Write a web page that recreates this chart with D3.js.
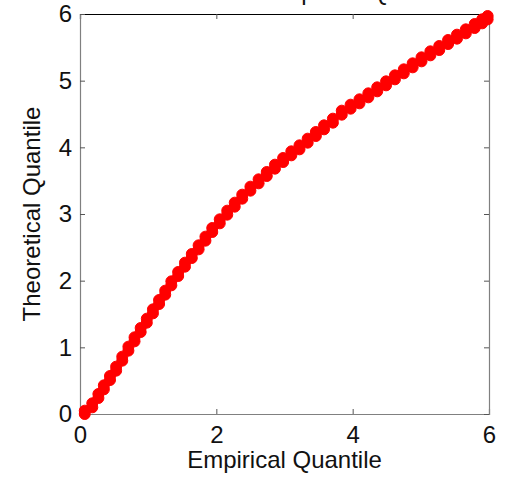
<!DOCTYPE html>
<html>
<head>
<meta charset="utf-8">
<script src="https://cdn.jsdelivr.net/npm/d3@7"></script>
<style>
  html, body { margin: 0; padding: 0; background: #fff; }
  svg { display: block; font-family: "Liberation Sans", Arial, sans-serif; }
</style>
</head>
<body>
<svg id="chart" width="508" height="478"></svg>
<script>
// Quantile pairs (empirical, theoretical); tied empirical values come in twos
const empirical = [
  0.07, 0.07, 0.18, 0.18, 0.27, 0.27, 0.35, 0.35, 0.44, 0.44, 0.53, 0.53,
  0.62, 0.62, 0.71, 0.71, 0.80, 0.80, 0.89, 0.89, 0.98, 0.98, 1.07, 1.07,
  1.16, 1.16, 1.25, 1.25, 1.34, 1.34, 1.44, 1.44, 1.54, 1.54, 1.64, 1.64,
  1.74, 1.74, 1.84, 1.84, 1.94, 1.94, 2.05, 2.05, 2.16, 2.16, 2.27, 2.27,
  2.38, 2.38, 2.50, 2.50, 2.62, 2.62, 2.74, 2.74, 2.86, 2.86, 2.98, 2.98,
  3.10, 3.10, 3.22, 3.22, 3.34, 3.34, 3.46, 3.46, 3.58, 3.58, 3.71, 3.71,
  3.84, 3.84, 3.97, 3.97, 4.10, 4.10, 4.23, 4.23, 4.36, 4.36, 4.49, 4.49,
  4.62, 4.62, 4.75, 4.75, 4.88, 4.88, 5.01, 5.01, 5.14, 5.14, 5.27, 5.27,
  5.40, 5.40, 5.53, 5.53, 5.66, 5.66, 5.79, 5.79, 5.90, 5.90, 5.98, 5.98
];
const theoretical = [
  0.00, 0.05, 0.10, 0.16, 0.24, 0.30, 0.37, 0.43, 0.51, 0.57, 0.65, 0.71,
  0.80, 0.86, 0.95, 1.01, 1.09, 1.15, 1.23, 1.29, 1.37, 1.43, 1.51, 1.57,
  1.65, 1.71, 1.79, 1.85, 1.93, 1.99, 2.07, 2.13, 2.21, 2.27, 2.34, 2.40,
  2.47, 2.53, 2.60, 2.66, 2.73, 2.79, 2.86, 2.92, 2.99, 3.05, 3.11, 3.17,
  3.23, 3.29, 3.35, 3.41, 3.46, 3.52, 3.57, 3.63, 3.68, 3.74, 3.78, 3.84,
  3.88, 3.94, 3.97, 4.03, 4.07, 4.13, 4.17, 4.23, 4.27, 4.33, 4.37, 4.43,
  4.49, 4.55, 4.58, 4.64, 4.66, 4.72, 4.75, 4.81, 4.84, 4.90, 4.93, 4.99,
  5.02, 5.08, 5.11, 5.17, 5.20, 5.26, 5.29, 5.35, 5.38, 5.44, 5.46, 5.52,
  5.55, 5.61, 5.63, 5.69, 5.71, 5.77, 5.79, 5.85, 5.86, 5.92, 5.92, 5.97
];
const xTicks = [0, 2, 4, 6];
const yTicks = [0, 1, 2, 3, 4, 5, 6];
const titleText = "Theoretical vs Empirical Quantile";
const xLabel = "Empirical Quantile";
const yLabel = "Theoretical Quantile";

const svg = d3.select("#chart");
const plotLeft = 80, plotRight = 489, plotTop = 14, plotBottom = 414;

const x = d3.scaleLinear().domain([0, 6]).range([plotLeft, plotRight]);
const y = d3.scaleLinear().domain([0, 6]).range([plotBottom, plotTop]);

const tickLen = 5;
const fontSize = 24;

// Axes (ticks point into the plot box)
const axisColor = "#808080";
const gBottom = svg.append("g").attr("transform", `translate(0,${plotBottom})`)
  .call(d3.axisBottom(x).tickValues(xTicks).tickSize(-tickLen).tickPadding(12).tickFormat(d3.format("d")));
const gTop = svg.append("g").attr("transform", `translate(0,${plotTop})`)
  .call(d3.axisTop(x).tickValues(xTicks).tickSize(-tickLen).tickFormat(""));
const gLeft = svg.append("g").attr("transform", `translate(${plotLeft},0)`)
  .call(d3.axisLeft(y).tickValues(yTicks).tickSize(-tickLen).tickPadding(8).tickFormat(d3.format("d")));
const gRight = svg.append("g").attr("transform", `translate(${plotRight},0)`)
  .call(d3.axisRight(y).tickValues(yTicks).tickSize(-tickLen).tickFormat(""));

[gBottom, gLeft, gRight].forEach(g => {
  g.select(".domain").attr("stroke", axisColor).attr("stroke-width", 1.2);
  g.selectAll(".tick line").attr("stroke", "#555");
});
gTop.select(".domain").attr("stroke", "#000").attr("stroke-width", 1.2);
gTop.selectAll(".tick line").attr("stroke", "#555");

[gBottom, gLeft].forEach(g => {
  g.selectAll(".tick text")
    .attr("font-family", "Liberation Sans, Arial, sans-serif")
    .attr("font-size", fontSize)
    .attr("fill", "#111");
});

// Quantile markers
const pts = empirical.map((e, i) => [e, theoretical[i]]);
svg.append("g").selectAll("circle").data(pts).join("circle")
  .attr("cx", d => x(d[0]))
  .attr("cy", d => y(d[1]))
  .attr("r", 5.5)
  .attr("fill", "#ff0000")
  .attr("stroke", "#ff0000")
  .attr("stroke-width", 1);

// Labels
svg.append("text")
  .attr("x", (plotLeft + plotRight) / 2).attr("y", 468)
  .attr("text-anchor", "middle").attr("font-size", fontSize).attr("fill", "#111")
  .text(xLabel);

svg.append("text")
  .attr("transform", `translate(40,${(plotTop + plotBottom) / 2}) rotate(-90)`)
  .attr("text-anchor", "middle").attr("font-size", fontSize).attr("fill", "#111")
  .text(yLabel);

// Title sits above the top edge of the page, only its lowest strokes are visible
svg.append("text")
  .attr("x", (plotLeft + plotRight) / 2).attr("y", 0)
  .attr("text-anchor", "middle").attr("font-size", fontSize).attr("fill", "#111")
  .text(titleText);
</script>
</body>
</html>
